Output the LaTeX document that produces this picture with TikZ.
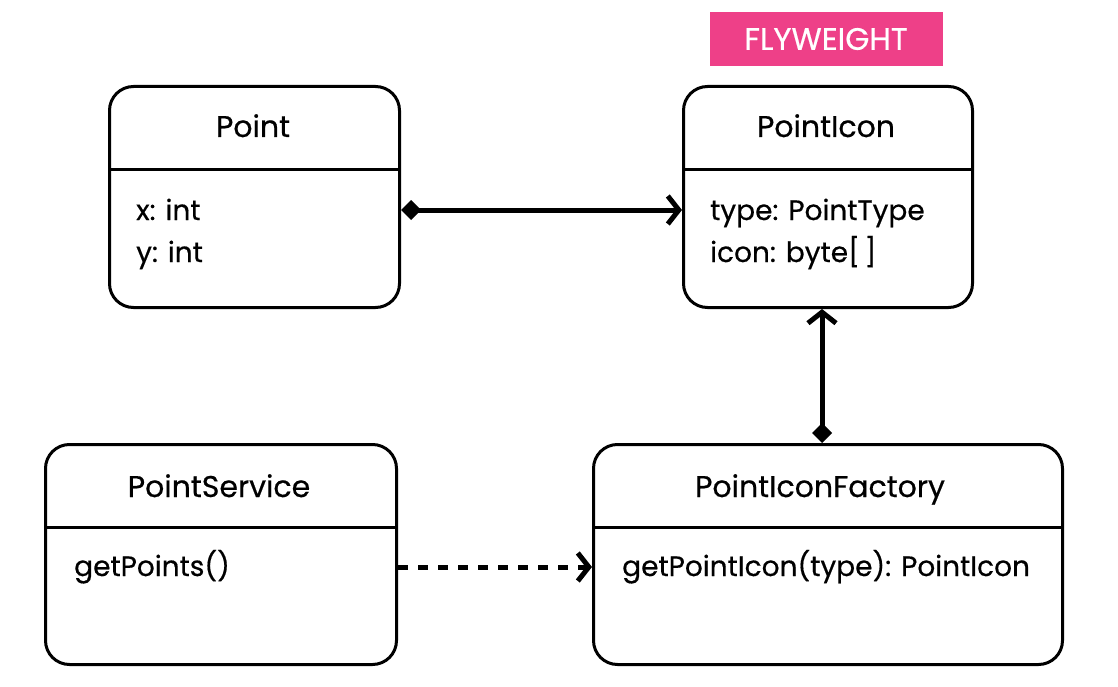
\documentclass[tikz,border=0pt]{standalone}
\usepackage{fontspec}
\setmainfont{Poppins}[FakeBold=0.5]
\usetikzlibrary{arrows.meta}
\definecolor{rosa}{HTML}{EE4088}

\begin{document}
\begin{tikzpicture}[x=1pt,y=-1pt,
    classe/.style={draw,line width=3pt,rounded corners=24pt,anchor=north west,inner sep=0pt},
    titolo/.style={font=\fontsize{30}{36}\selectfont,text height=21pt,text depth=7pt,inner sep=0pt},
    voce/.style={font=\fontsize{28}{34}\selectfont,anchor=west,inner sep=0pt,text height=20pt,text depth=6pt},
    freccia/.style={line width=5pt,{Diamond[length=20pt,width=20pt]}-{Straight Barb[length=11pt,width=28pt]}},
    dipende/.style={line width=5pt,dash pattern=on 10pt off 10pt,-{Straight Barb[length=11pt,width=28pt]}}
  ]
        \useasboundingbox (0,0) rectangle (1118,687);

        % etichetta
        \node[fill=rosa,text=white,minimum width=233pt,minimum height=54pt,
              font=\fontsize{31}{36}\selectfont] (tag) at (826,39) {FLYWEIGHT};

        % Point
        \node[classe,minimum width=290pt,minimum height=221pt] (point) at (108,85) {};
        \draw[line width=3pt] ([yshift=-85pt]point.north west) -- ([yshift=-85pt]point.north east);
        \node[titolo] (pointT) at (253,130) {Point};
        \node[voce] (pointX) at (136,213) {x: int};
        \node[voce] (pointY) at (136,255) {y: int};

        % PointIcon
        \node[classe,minimum width=289pt,minimum height=221pt] (icon) at (682,85) {};
        \draw[line width=3pt] ([yshift=-85pt]icon.north west) -- ([yshift=-85pt]icon.north east);
        \node[titolo] (iconT) at (826,130) {PointIcon};
        \node[voce] (iconA) at (710,213) {type: PointType};
        \node[voce] (iconB) at (710,255) {icon: byte[\,]};

        % PointService
        \node[classe,minimum width=351pt,minimum height=220pt] (service) at (44,443) {};
        \draw[line width=3pt] ([yshift=-84pt]service.north west) -- ([yshift=-84pt]service.north east);
        \node[titolo] (serviceT) at (219,490) {PointService};
        \node[voce] (serviceA) at (74,569) {getPoints()};

        % PointIconFactory
        \node[classe,minimum width=469pt,minimum height=220pt] (factory) at (592,443) {};
        \draw[line width=3pt] ([yshift=-84pt]factory.north west) -- ([yshift=-84pt]factory.north east);
        \node[titolo] (factoryT) at (820,490) {PointIconFactory};
        \node[voce] (factoryA) at (622,569) {getPointIcon(type): PointIcon};

        % collegamenti
        \draw[freccia] (point.east |- 0,210) -- (icon.west |- 0,210);
        \draw[freccia] ([xshift=-6pt]factory.north) -- ([xshift=-6pt]icon.south);
        \draw[dipende] (service.east |- 0,567) -- (factory.west |- 0,567);
\end{tikzpicture}
\end{document}
